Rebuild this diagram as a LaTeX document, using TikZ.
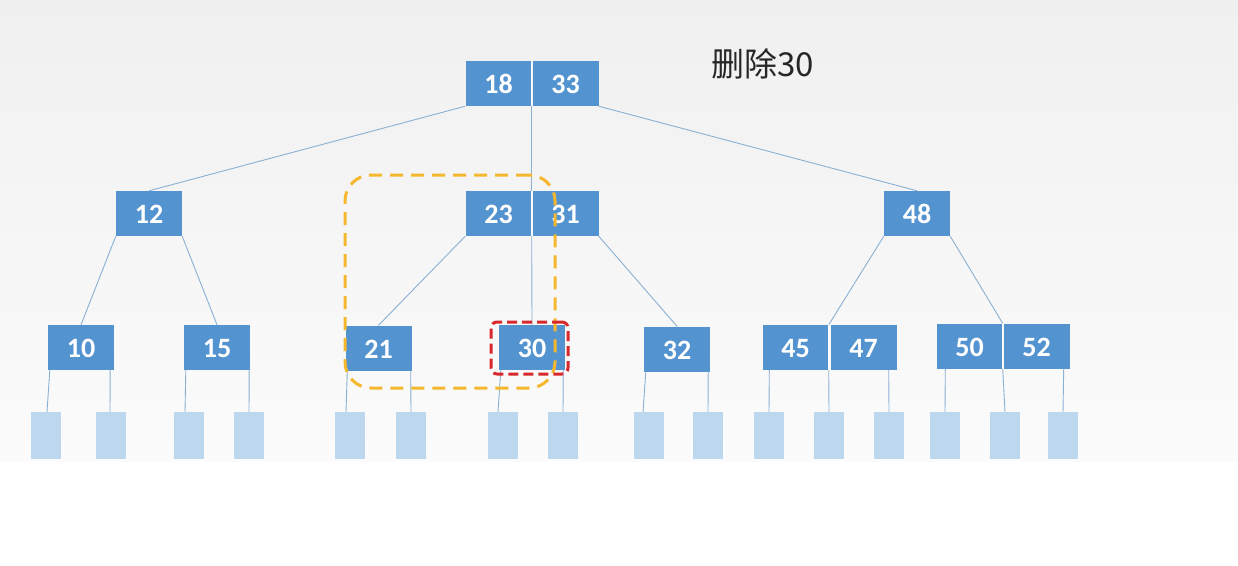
\documentclass[tikz,border=0pt]{standalone}
\usepackage{fontspec}
\setmainfont{Carlito}
\newfontfamily\cjk{Noto Sans CJK SC}
\definecolor{nodeblue}{HTML}{5393CF}
\definecolor{leafblue}{HTML}{BDD7EE}
\definecolor{edgeblue}{HTML}{8AB0D3}
\definecolor{dashyellow}{HTML}{F4B72E}
\definecolor{dashred}{HTML}{D8282B}
\definecolor{bgtop}{HTML}{F0F0F0}
\definecolor{bgbot}{HTML}{FBFBFB}
\begin{document}
\begin{tikzpicture}[x=1pt,y=-1pt,
  cell/.style={fill=nodeblue,minimum width=66pt,minimum height=45pt,inner sep=0pt,
    text height=20pt,text depth=0pt,
    text=white,font=\fontsize{28}{28}\selectfont\bfseries},
  leaf/.style={fill=leafblue,minimum width=30pt,minimum height=47pt,inner sep=0pt},
  edge/.style={draw=edgeblue,line width=0.9pt},
  divider/.style={draw=white,line width=1pt}]
\useasboundingbox (0,0) rectangle (1238,565);
\fill[white] (0,0) rectangle (1238,565);
\shade[top color=bgtop,bottom color=bgbot] (0,0) rectangle (1238,461);
% root
\node[cell] (r1) at (498.5,83.5) {18};
\node[cell] (r2) at (565.5,83.5) {33};
% level 2
\node[cell] (a) at (149,213.5) {12};
\node[cell] (b1) at (498.5,213.5) {23};
\node[cell] (b2) at (565.5,213.5) {31};
\node[cell] (c) at (917,213.5) {48};
% level 3
\node[cell] (d) at (81,347.5) {10};
\node[cell] (e) at (217,347.5) {15};
\node[cell] (f) at (378.5,348) {21};
\node[cell] (g) at (532,347.5) {30};
\node[cell] (h) at (677,349) {32};
\node[cell] (i1) at (795.5,347.5) {45};
\node[cell] (i2) at (863.5,347.5) {47};
\node[cell] (j1) at (969.5,346) {50};
\node[cell] (j2) at (1036.5,346) {52};
% dividers
\draw[divider] (r1.north east) -- (r1.south east);
\draw[divider] (b1.north east) -- (b1.south east);
\draw[divider] (i1.north east) -- (i1.south east);
\draw[divider] (j1.north east) -- (j1.south east);
% leaves
\node[leaf] (l1) at (46,435.5) {};
\node[leaf] (l2) at (111,435.5) {};
\node[leaf] (l3) at (189,435.5) {};
\node[leaf] (l4) at (249,435.5) {};
\node[leaf] (l5) at (350,435.5) {};
\node[leaf] (l6) at (411,435.5) {};
\node[leaf] (l7) at (503,435.5) {};
\node[leaf] (l8) at (563,435.5) {};
\node[leaf] (l9) at (649,435.5) {};
\node[leaf] (l10) at (708,435.5) {};
\node[leaf] (l11) at (769,435.5) {};
\node[leaf] (l12) at (829,435.5) {};
\node[leaf] (l13) at (889,435.5) {};
\node[leaf] (l14) at (945,435.5) {};
\node[leaf] (l15) at (1005,435.5) {};
\node[leaf] (l16) at (1063,435.5) {};
% tree edges
\draw[edge] (r1.south west) -- (a.north);
\draw[edge] (r1.south east) -- (b1.north east);
\draw[edge] (b1.south east) -- (g.north);
\draw[edge] (r2.south east) -- (c.north);
\draw[edge] (a.south west) -- (d.north);
\draw[edge] (a.south east) -- (e.north);
\draw[edge] (b1.south west) -- (f.north);
\draw[edge] (b2.south east) -- (h.north);
\draw[edge] (c.south west) -- (i1.north east);
\draw[edge] (c.south east) -- (j1.north east);
% leaf edges
\draw[edge] ([xshift=2pt]d.south west) -- ([xshift=1pt]l1.north);
\draw[edge] ([xshift=-4pt]d.south east) -- ([xshift=-1pt]l2.north);
\draw[edge] ([xshift=2pt]e.south west) -- ([xshift=-4pt]l3.north);
\draw[edge] ([xshift=-1pt]e.south east) -- (l4.north);
\draw[edge] ([xshift=2pt]f.south west) -- ([xshift=-4pt]l5.north);
\draw[edge] ([xshift=-1pt]f.south east) -- (l6.north);
\draw[edge] ([xshift=2pt]g.south west) -- ([xshift=-5pt]l7.north);
\draw[edge] ([xshift=-2pt]g.south east) -- (l8.north);
\draw[edge] ([xshift=2pt]h.south west) -- ([xshift=-6pt]l9.north);
\draw[edge] ([xshift=-2pt]h.south east) -- (l10.north);
\draw[edge] ([xshift=7pt]i1.south west) -- (l11.north);
\draw[edge] (i1.south east) -- (l12.north);
\draw[edge] ([xshift=-8pt]i2.south east) -- (l13.north);
\draw[edge] ([xshift=9pt]j1.south west) -- (l14.north);
\draw[edge] (j1.south east) -- (l15.north);
\draw[edge] ([xshift=-6pt]j2.south east) -- (l16.north);
% highlight frames
\node[draw=dashyellow,line width=3pt,dash pattern=on 13pt off 8pt,rounded corners=26pt,
  minimum width=210pt,minimum height=213pt,inner sep=0pt] (yframe) at (450,281.5) {};
\node[draw=dashred,line width=3pt,dash pattern=on 10pt off 5pt,rounded corners=6pt,
  minimum width=77pt,minimum height=52pt,inner sep=0pt] (rframe) at (529.5,348) {};
% title
\node[anchor=west,inner sep=0pt,font=\cjk\fontsize{33}{33}\selectfont,text=black!85] (title) at (711,64) {删除30};
\end{tikzpicture}
\end{document}
